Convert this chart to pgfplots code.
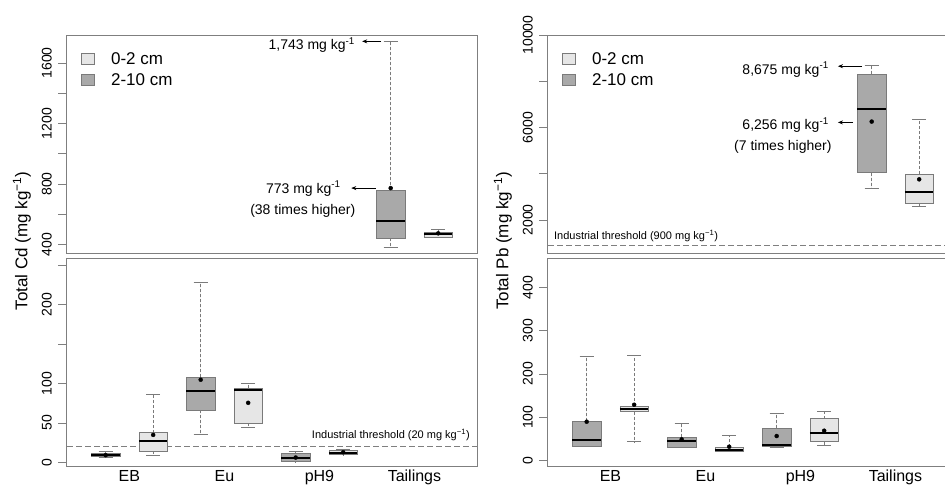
\documentclass[border=0pt]{standalone}
\usepackage{fontspec}
\setmainfont{Liberation Sans}
\usepackage{pgfplots}
\pgfplotsset{compat=1.18}
\usepgfplotslibrary{statistics}
\usetikzlibrary{arrows.meta}
\definecolor{boxgray}{HTML}{7A7A7A}
\definecolor{framegray}{HTML}{7F7F7F}
\definecolor{lightfill}{HTML}{E6E6E6}
\definecolor{darkfill}{HTML}{A9A9A9}
\newcommand{\fs}[1]{\fontsize{#1}{#1}\selectfont}
\pgfplotsset{
  panel/.style={
    scale only axis, width=411pt, xmin=0.165, xmax=8.817,
    axis line style={framegray, line width=0.8pt},
    tick align=outside, major tick length=8pt,
    ytick pos=left, xtick pos=bottom, scaled y ticks=false,
    ytick style={framegray, line width=0.7pt},
    xtick style={draw=none},
    yticklabel style={font=\fs{14}, rotate=90, anchor=south, inner sep=1pt, yshift=5pt},
    xticklabel style={font=\fs{16}, inner sep=1pt, anchor=north, yshift=5pt},
    boxplot/draw direction=y,
    boxplot/box extend=0.6,
    boxplot/whisker extend=0.3,
    boxplot/every box/.style={draw=boxgray, line width=0.8pt},
    boxplot/every median/.style={draw=black, line width=2pt},
    boxplot/every whisker/.style={draw=boxgray, line width=0.8pt},
    boxplot/draw/lower whisker/.code={%
      \draw[/pgfplots/boxplot/every whisker/.try, dash pattern=on 3pt off 2pt]
        (boxplot box cs:\pgfplotsboxplotvalue{lower quartile},0.5) --
        (boxplot box cs:\pgfplotsboxplotvalue{lower whisker},0.5);
      \draw[/pgfplots/boxplot/every whisker/.try, solid]
        (boxplot whisker cs:\pgfplotsboxplotvalue{lower whisker},0) --
        (boxplot whisker cs:\pgfplotsboxplotvalue{lower whisker},1);
    },
    boxplot/draw/upper whisker/.code={%
      \draw[/pgfplots/boxplot/every whisker/.try, dash pattern=on 3pt off 2pt]
        (boxplot box cs:\pgfplotsboxplotvalue{upper quartile},0.5) --
        (boxplot box cs:\pgfplotsboxplotvalue{upper whisker},0.5);
      \draw[/pgfplots/boxplot/every whisker/.try, solid]
        (boxplot whisker cs:\pgfplotsboxplotvalue{upper whisker},0) --
        (boxplot whisker cs:\pgfplotsboxplotvalue{upper whisker},1);
    },
  },
  toppanel/.style={panel, height=218pt, xtick=\empty,
    legend style={at={(rel axis cs:0.037,0.93)}, anchor=north west, draw=none, fill=none,
      font=\fs{17}, row sep=4pt, column sep=14pt, inner sep=0pt},
    legend cell align=left,
    legend image code/.code={\draw[#1, draw=boxgray, line width=0.7pt] (0pt,-5pt) rectangle (13pt,6pt);},
  },
  botpanel/.style={panel, height=208pt, xtick={1.5,3.5,5.5,7.5},
    xticklabels={EB,Eu,pH9,Tailings}},
  dk/.style={forget plot, fill=darkfill, draw=boxgray},
  lt/.style={forget plot, fill=lightfill, draw=boxgray},
  meanpt/.style={forget plot, only marks, mark=*, mark size=2pt, black},
  thr/.style={forget plot, framegray, line width=0.7pt, dash pattern=on 6pt off 3pt},
}
\begin{document}
\begin{tikzpicture}[x=1pt,y=1pt]
\useasboundingbox (0,0) rectangle (945,489);

% ---------- Cd top ----------
\begin{axis}[toppanel, at={(66pt,236pt)}, anchor=south west,
  ymin=344, ymax=1785, ytick={400,600,...,1600}, yticklabels={400,,800,,1200,,1600}]
\addlegendimage{fill=lightfill}\addlegendentry{0-2 cm}
\addlegendimage{fill=darkfill}\addlegendentry{2-10 cm}
\addplot+[dk, boxplot prepared={draw position=7, lower whisker=379, lower quartile=443, median=553, upper quartile=759, upper whisker=1743}] coordinates {};
\addplot+[lt, boxplot prepared={draw position=8, lower whisker=446, lower quartile=450, median=467, upper quartile=482, upper whisker=502}] coordinates {};
\addplot[meanpt] coordinates {(7,773) (8,474)};
\draw[-{Stealth[length=5pt,width=4pt]}, line width=0.7pt] (axis cs:6.80,1743) -- (axis cs:6.40,1743);
\node[anchor=east, font=\fs{14}, inner sep=0pt] at (axis cs:6.25,1716) {1,743 mg kg\textsuperscript{-1}};
\draw[-{Stealth[length=5pt,width=4pt]}, line width=0.7pt] (axis cs:6.69,773) -- (axis cs:6.17,773);
\node[anchor=east, font=\fs{14}, inner sep=0pt] at (axis cs:5.95,770) {773 mg kg\textsuperscript{-1}};
\node[font=\fs{14}, inner sep=0pt] at (axis cs:5.15,621) {(38 times higher)};
\end{axis}

% ---------- Cd bottom ----------
\begin{axis}[botpanel, at={(66pt,23pt)}, anchor=south west,
  ymin=-4.7, ymax=259, ytick={0,50,...,250}, yticklabels={0,50,100,,200,}]
\addplot[thr] coordinates {(0,20) (9,20)};
\addplot+[dk, boxplot prepared={draw position=1, lower whisker=6.3, lower quartile=8, median=9.8, upper quartile=11.8, upper whisker=13.5}] coordinates {};
\addplot+[lt, boxplot prepared={draw position=2, lower whisker=8.5, lower quartile=14.4, median=26.7, upper quartile=37.7, upper whisker=86.4}] coordinates {};
\addplot+[dk, boxplot prepared={draw position=3, lower whisker=35.2, lower quartile=65.7, median=90.7, upper quartile=107.6, upper whisker=228}] coordinates {};
\addplot+[lt, boxplot prepared={draw position=4, lower whisker=43.6, lower quartile=49.2, median=91.5, upper quartile=94, upper whisker=100}] coordinates {};
\addplot+[dk, boxplot prepared={draw position=5, lower whisker=0.5, lower quartile=0.8, median=5.5, upper quartile=11.4, upper whisker=14.3}] coordinates {};
\addplot+[lt, boxplot prepared={draw position=6, lower whisker=9.6, lower quartile=9.8, median=12, upper quartile=14.7, upper whisker=16.9}] coordinates {};
\addplot[meanpt] coordinates {(1,9) (2,34.7) (3,104.7) (4,75.4) (5,6) (6,12.7)};
\node[anchor=east, font=\fs{11}, inner sep=0pt] at (axis cs:8.67,35) {Industrial threshold (20 mg kg\textsuperscript{−1})};
\end{axis}

% ---------- Pb top ----------
\begin{axis}[toppanel, at={(547pt,236pt)}, anchor=south west,
  ymin=573, ymax=10000, ytick={2000,4000,...,10000}, yticklabels={2000,,6000,,10000}]
\addlegendimage{fill=lightfill}\addlegendentry{0-2 cm}
\addlegendimage{fill=darkfill}\addlegendentry{2-10 cm}
\addplot[thr] coordinates {(0,900) (9,900)};
\addplot+[dk, boxplot prepared={draw position=7, lower whisker=3369, lower quartile=4047, median=6786, upper quartile=8314, upper whisker=8675}] coordinates {};
\addplot+[lt, boxplot prepared={draw position=8, lower whisker=2591, lower quartile=2721, median=3196, upper quartile=3989, upper whisker=6339}] coordinates {};
\addplot[meanpt] coordinates {(7,6256) (8,3758)};
\draw[-{Stealth[length=5pt,width=4pt]}, line width=0.7pt] (axis cs:6.80,8650) -- (axis cs:6.29,8650);
\node[anchor=east, font=\fs{14}, inner sep=0pt] at (axis cs:6.10,8500) {8,675 mg kg\textsuperscript{-1}};
\draw[-{Stealth[length=5pt,width=4pt]}, line width=0.7pt] (axis cs:6.61,6220) -- (axis cs:6.29,6220);
\node[anchor=east, font=\fs{14}, inner sep=0pt] at (axis cs:6.10,6120) {6,256 mg kg\textsuperscript{-1}};
\node[font=\fs{14}, inner sep=0pt] at (axis cs:5.13,5157) {(7 times higher)};
\node[anchor=west, font=\fs{11}, inner sep=0pt] at (axis cs:0.31,1308) {Industrial threshold (900 mg kg\textsuperscript{−1})};
\end{axis}

% ---------- Pb bottom ----------
\begin{axis}[botpanel, at={(547pt,23pt)}, anchor=south west,
  ymin=-13, ymax=468, ytick={0,100,...,400}, yticklabels={0,100,200,300,400}]
\addplot+[dk, boxplot prepared={draw position=1, lower whisker=33, lower quartile=33, median=47, upper quartile=91, upper whisker=241}] coordinates {};
\addplot+[lt, boxplot prepared={draw position=2, lower whisker=43, lower quartile=112.5, median=118.7, upper quartile=125.6, upper whisker=243.5}] coordinates {};
\addplot+[dk, boxplot prepared={draw position=3, lower whisker=30, lower quartile=30, median=44.7, upper quartile=54, upper whisker=84.8}] coordinates {};
\addplot+[lt, boxplot prepared={draw position=4, lower whisker=21.6, lower quartile=21.6, median=24, upper quartile=30, upper whisker=58.6}] coordinates {};
\addplot+[dk, boxplot prepared={draw position=5, lower whisker=30, lower quartile=31.6, median=36.2, upper quartile=74, upper whisker=109.4}] coordinates {};
\addplot+[lt, boxplot prepared={draw position=6, lower whisker=34.7, lower quartile=43.2, median=63.2, upper quartile=96.3, upper whisker=112.5}] coordinates {};
\addplot[meanpt] coordinates {(1,89.4) (2,128.7) (3,48.6) (4,31.6) (5,56.3) (6,68.6)};
\end{axis}

\node[rotate=90, font=\fs{17}, inner sep=0pt] at (22,248) {Total Cd (mg kg\textsuperscript{−1})};
\node[rotate=90, font=\fs{17}, inner sep=0pt] at (503,248) {Total Pb (mg kg\textsuperscript{−1})};
\end{tikzpicture}
\end{document}
